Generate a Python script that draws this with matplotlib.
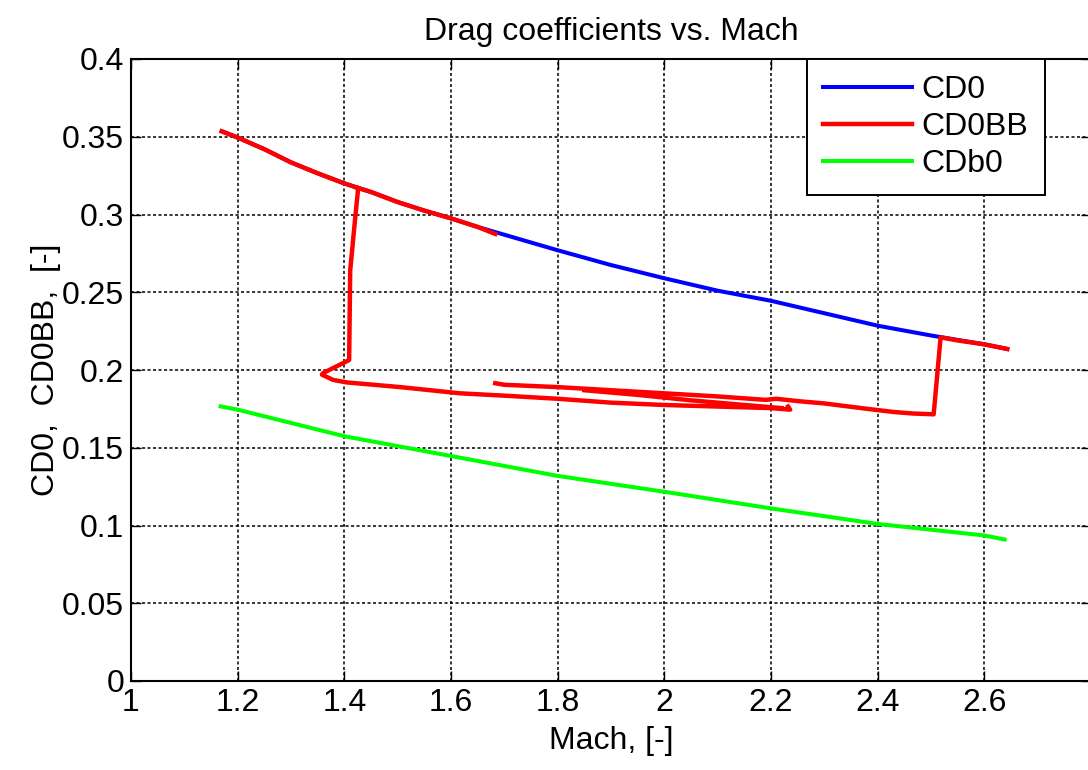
import numpy as np
import matplotlib
matplotlib.use("Agg")
from matplotlib import pyplot as plt
from matplotlib.ticker import FuncFormatter

plt.rcParams['font.family'] = ['Liberation Sans', 'DejaVu Sans']

# CD0 (blue)
mach_cd0 = [1.17, 1.2, 1.25, 1.3, 1.35, 1.4, 1.45, 1.5, 1.55, 1.6, 1.65, 1.7,
            1.8, 1.9, 2.0, 2.1, 2.2, 2.3, 2.4, 2.5, 2.6, 2.643]
cd0 = [0.3535, 0.3495, 0.342, 0.3335, 0.3265, 0.320, 0.3145, 0.308, 0.3025,
       0.2975, 0.292, 0.287, 0.277, 0.2675, 0.259, 0.251, 0.2445, 0.2365,
       0.2285, 0.2222, 0.2165, 0.2135]

# CD0BB (red), pieces split by nan
mach_cd0bb = [1.17, 1.2, 1.25, 1.3, 1.35, 1.4, 1.426, 1.420, 1.411, 1.409,
              1.398, 1.36, 1.358, 1.379, 1.405, 1.505, 1.617, 1.7, 1.8, 1.9,
              2.0, 2.1, 2.2, 2.236, 2.232,
              np.nan,
              1.426, 1.45, 1.5, 1.55, 1.6, 1.65, 1.683,
              np.nan,
              1.683, 1.7, 1.8, 1.9, 2.0, 2.1, 2.19, 2.21, 2.25, 2.3, 2.381,
              2.43, 2.467, 2.505, 2.518, 2.55, 2.6, 2.643,
              np.nan,
              1.85, 1.95, 2.05, 2.15, 2.22]
cd0bb = [0.3535, 0.3495, 0.342, 0.3335, 0.3265, 0.320, 0.317, 0.2965, 0.264,
         0.2064, 0.2045, 0.198, 0.197, 0.1936, 0.192, 0.189, 0.185, 0.1835,
         0.1815, 0.179, 0.1775, 0.1765, 0.1755, 0.1745, 0.1765,
         np.nan,
         0.317, 0.3145, 0.308, 0.3025, 0.2975, 0.292, 0.2875,
         np.nan,
         0.1915, 0.1905, 0.189, 0.187, 0.185, 0.183, 0.1808, 0.1815, 0.180,
         0.1785, 0.175, 0.173, 0.172, 0.1715, 0.221, 0.219, 0.2165, 0.2135,
         np.nan,
         0.187, 0.184, 0.1805, 0.1775, 0.1755]

# CDb0 (green)
mach_cdb0 = [1.168, 1.2, 1.4, 1.6, 1.8, 2.0, 2.2, 2.4, 2.6, 2.638]
cdb0 = [0.1766, 0.1745, 0.1574, 0.1447, 0.1319, 0.1217, 0.111, 0.101,
        0.0936, 0.091]

x_ticks = [1, 1.2, 1.4, 1.6, 1.8, 2, 2.2, 2.4, 2.6, 2.8]
y_ticks = [0, 0.05, 0.1, 0.15, 0.2, 0.25, 0.3, 0.35, 0.4]

fig = plt.figure(figsize=(10.88, 7.7), dpi=100)
ax = fig.add_axes([131 / 1088, 89 / 770, 960 / 1088, 622 / 770])

ax.plot(mach_cd0, cd0, color='#0000ff', lw=2.9, label='CD0')
ax.plot(mach_cd0bb, cd0bb, color='#ff0000', lw=3.2, label='CD0BB')
ax.plot(mach_cdb0, cdb0, color='#00ff00', lw=2.9, label='CDb0')

ax.set_xlim(1, 2.8)
ax.set_ylim(0, 0.4)
ax.set_xticks(x_ticks)
ax.set_yticks(y_ticks)
# last x tick (2.8) sits on the cut-off right edge, no label there
fmt_x = FuncFormatter(lambda v, p: '' if v > 2.7 else ('%g' % round(v, 3)))
fmt_y = FuncFormatter(lambda v, p: ('%g' % round(v, 3)))
ax.xaxis.set_major_formatter(fmt_x)
ax.yaxis.set_major_formatter(fmt_y)
ax.tick_params(direction='in', length=7, width=1, labelsize=23,
               top=True, right=True, pad=5)
ax.grid(True, color='black', linestyle=(0, (2, 1.6)), linewidth=1.1)
for s in ax.spines.values():
    s.set_linewidth(1.5)

ax.set_title('Drag coefficients vs. Mach', fontsize=23, pad=14)
ax.set_xlabel('Mach, [-]', fontsize=23, labelpad=6)
ax.set_ylabel('CD0,  CD0BB,  [-]', fontsize=23, labelpad=1)

leg = ax.legend(loc='upper left', bbox_to_anchor=(0.704, 1.0), fontsize=23,
                fancybox=False, framealpha=1, edgecolor='black',
                handlelength=2.8, borderpad=0.5, labelspacing=0.22,
                handletextpad=0.3, borderaxespad=0.0)
leg.get_frame().set_linewidth(1.4)

fig.savefig('out.png', dpi=100)
